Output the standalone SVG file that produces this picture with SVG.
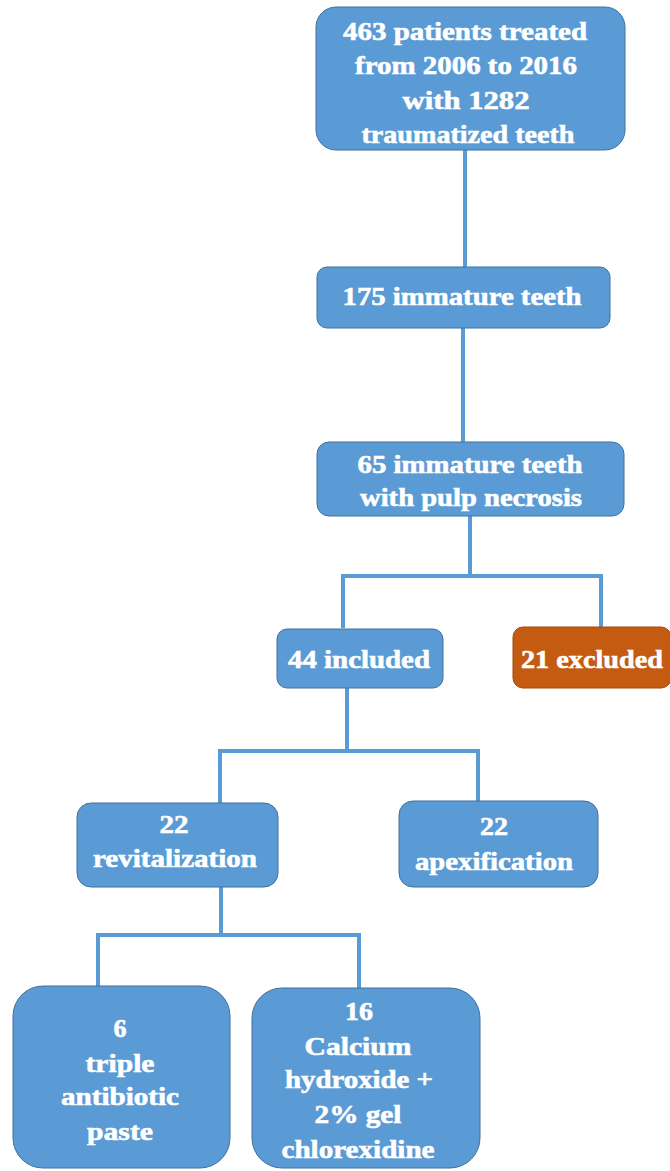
<svg xmlns="http://www.w3.org/2000/svg" width="670" height="1171" viewBox="0 0 670 1171">
<style>
.box{fill:#5B9BD5;stroke:#41719C;stroke-width:1}
.exc{fill:#C55A11;stroke:#A04A0E;stroke-width:1}
.t{font-family:'Liberation Serif','Times New Roman',serif;font-weight:700;font-size:26px;fill:#ffffff;stroke:#ffffff;stroke-width:0.6;text-anchor:middle}
.c{fill:none;stroke:#5B9BD5;stroke-width:4}
</style>
<rect width="670" height="1171" fill="#ffffff"/>
<g id="connectors">
<path class="c" d="M465 150V267"/>
<path class="c" d="M463 328V442"/>
<path class="c" d="M470 516V576"/>
<path class="c" d="M343 628V576H601V628"/>
<path class="c" d="M347 688V751"/>
<path class="c" d="M220 803V751H478V801"/>
<path class="c" d="M221 887V935"/>
<path class="c" d="M98 986V935H359V988"/>
</g>
<g id="n1">
<rect class="box" x="316" y="7" width="309" height="143" rx="20"/>
<text class="t" x="465" y="40" textLength="244" lengthAdjust="spacingAndGlyphs">463 patients treated</text>
<text class="t" x="466" y="74" textLength="222" lengthAdjust="spacingAndGlyphs">from 2006 to 2016</text>
<text class="t" x="466" y="109" textLength="127" lengthAdjust="spacingAndGlyphs">with 1282</text>
<text class="t" x="468" y="143" textLength="213" lengthAdjust="spacingAndGlyphs">traumatized teeth</text>
</g>
<g id="n2">
<rect class="box" x="317" y="267" width="293" height="61" rx="10"/>
<text class="t" x="462" y="305" textLength="239" lengthAdjust="spacingAndGlyphs">175 immature teeth</text>
</g>
<g id="n3">
<rect class="box" x="317" y="442" width="307" height="74" rx="12"/>
<text class="t" x="470" y="473" textLength="225" lengthAdjust="spacingAndGlyphs">65 immature teeth</text>
<text class="t" x="471" y="506" textLength="222" lengthAdjust="spacingAndGlyphs">with pulp necrosis</text>
</g>
<g id="n4">
<rect class="box" x="277" y="629" width="166" height="59" rx="10"/>
<text class="t" x="359" y="668" textLength="142" lengthAdjust="spacingAndGlyphs">44 included</text>
</g>
<g id="n5">
<rect class="exc" x="513" y="627" width="158" height="61" rx="10"/>
<text class="t" x="592" y="668" textLength="142" lengthAdjust="spacingAndGlyphs">21 excluded</text>
</g>
<g id="n6">
<rect class="box" x="77" y="803" width="201" height="84" rx="14"/>
<text class="t" x="174" y="833" textLength="29" lengthAdjust="spacingAndGlyphs">22</text>
<text class="t" x="175" y="867" textLength="164" lengthAdjust="spacingAndGlyphs">revitalization</text>
</g>
<g id="n7">
<rect class="box" x="399" y="801" width="199" height="86" rx="14"/>
<text class="t" x="494" y="835" textLength="28" lengthAdjust="spacingAndGlyphs">22</text>
<text class="t" x="494" y="870" textLength="158" lengthAdjust="spacingAndGlyphs">apexification</text>
</g>
<g id="n8">
<rect class="box" x="13" y="986" width="217" height="182" rx="30"/>
<text class="t" x="120" y="1037">6</text>
<text class="t" x="120" y="1072" textLength="69" lengthAdjust="spacingAndGlyphs">triple</text>
<text class="t" x="120" y="1105" textLength="118" lengthAdjust="spacingAndGlyphs">antibiotic</text>
<text class="t" x="120" y="1140" textLength="66" lengthAdjust="spacingAndGlyphs">paste</text>
</g>
<g id="n9">
<rect class="box" x="252" y="988" width="228" height="180" rx="30"/>
<text class="t" x="359" y="1020" textLength="28" lengthAdjust="spacingAndGlyphs">16</text>
<text class="t" x="358" y="1055" textLength="107" lengthAdjust="spacingAndGlyphs">Calcium</text>
<text class="t" x="359" y="1088" textLength="148" lengthAdjust="spacingAndGlyphs">hydroxide +</text>
<text class="t" x="358" y="1123" textLength="87" lengthAdjust="spacingAndGlyphs">2% gel</text>
<text class="t" x="358" y="1158" textLength="153" lengthAdjust="spacingAndGlyphs">chlorexidine</text>
</g>
</svg>
